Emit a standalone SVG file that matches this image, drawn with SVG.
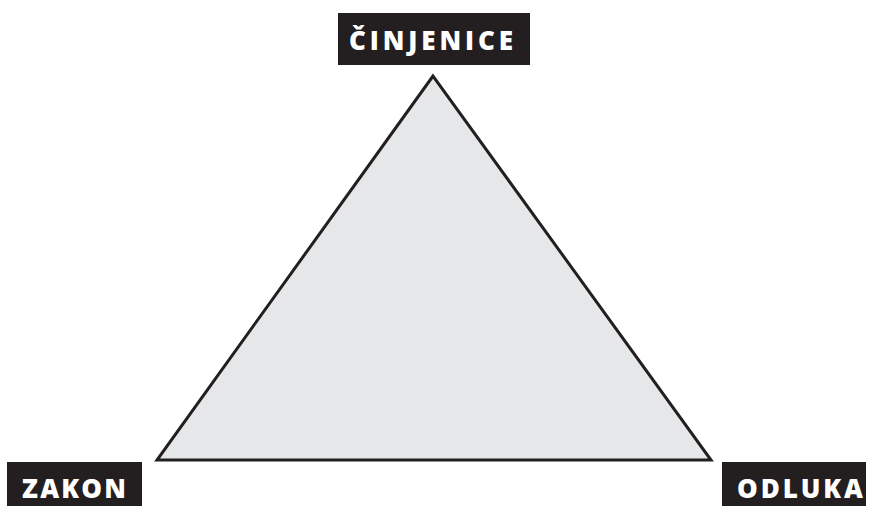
<svg xmlns="http://www.w3.org/2000/svg" width="871" height="506" viewBox="0 0 871 506">
<style>
.box{fill:#231f20}
.lbl{fill:#ffffff;font-family:"Open Sans","Noto Sans","Liberation Sans",sans-serif;font-weight:800;font-size:26px}
.tri{fill:#e6e7e8;stroke:#231f20;stroke-width:3;stroke-linejoin:miter}
</style>
<rect width="871" height="506" fill="#ffffff"/>
<g id="connectors">
<polygon class="tri" points="433,76 157,460 711,460"/>
</g>
<g id="cinjenice">
<rect class="box" x="338" y="13" width="192" height="52"/>
<text class="lbl" x="349" y="50" textLength="164" lengthAdjust="spacing">ČINJENICE</text>
</g>
<g id="zakon">
<rect class="box" x="7" y="462" width="135" height="44"/>
<text class="lbl" x="22" y="498" textLength="104" lengthAdjust="spacing">ZAKON</text>
</g>
<g id="odluka">
<rect class="box" x="722" y="462" width="144" height="44"/>
<text class="lbl" x="737" y="498" textLength="126" lengthAdjust="spacing">ODLUKA</text>
</g>
</svg>
